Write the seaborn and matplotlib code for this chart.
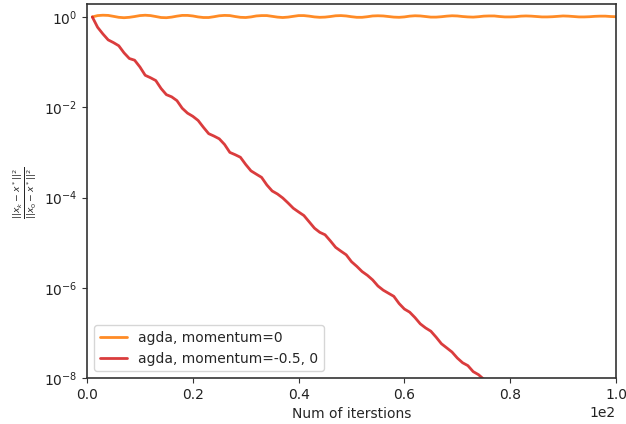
import matplotlib
matplotlib.use("Agg")
import matplotlib.pyplot as plt
import numpy as np
import pandas as pd
import seaborn as sns

# relative squared distance to the solution, per iteration
iters_plain = list(range(1, 101))
err_plain = [
    1.00, 1.07, 1.09, 1.08, 1.03, 0.98, 0.96, 0.98, 1.02, 1.07,
    1.09, 1.07, 1.02, 0.97, 0.96, 0.99, 1.04, 1.08, 1.08, 1.05,
    1.00, 0.97, 0.97, 1.01, 1.06, 1.08, 1.07, 1.02, 0.98, 0.97,
    1.00, 1.05, 1.07, 1.07, 1.03, 0.99, 0.97, 0.99, 1.03, 1.07,
    1.07, 1.04, 1.00, 0.98, 0.99, 1.02, 1.06, 1.07, 1.05, 1.01,
    0.98, 0.98, 1.01, 1.05, 1.06, 1.05, 1.02, 0.99, 0.98, 1.00,
    1.04, 1.06, 1.05, 1.02, 0.99, 0.99, 1.01, 1.04, 1.06, 1.05,
    1.02, 1.00, 0.99, 1.01, 1.04, 1.05, 1.05, 1.02, 1.00, 1.00,
    1.01, 1.04, 1.05, 1.04, 1.02, 1.00, 1.00, 1.01, 1.03, 1.05,
    1.04, 1.02, 1.00, 1.00, 1.01, 1.03, 1.04, 1.04, 1.02, 1.01,
]

iters_mom = list(range(1, 77))
err_mom = [
    1.0, 5.9e-1, 4.2e-1, 3.1e-1, 2.7e-1, 2.3e-1, 1.6e-1, 1.2e-1, 1.1e-1, 7.8e-2,
    5.1e-2, 4.5e-2, 3.9e-2, 2.6e-2, 1.9e-2, 1.7e-2, 1.4e-2, 9.5e-3, 7.4e-3, 6.3e-3,
    5.1e-3, 3.6e-3, 2.6e-3, 2.3e-3, 2.0e-3, 1.5e-3, 1.0e-3, 8.9e-4, 7.8e-4, 5.4e-4,
    3.9e-4, 3.3e-4, 2.8e-4, 1.9e-4, 1.4e-4, 1.2e-4, 9.8e-5, 7.6e-5, 5.8e-5, 4.8e-5,
    4.0e-5, 2.9e-5, 2.1e-5, 1.7e-5, 1.5e-5, 1.1e-5, 7.9e-6, 6.5e-6, 5.4e-6, 3.8e-6,
    3.0e-6, 2.3e-6, 1.9e-6, 1.5e-6, 1.1e-6, 8.9e-7, 7.6e-7, 6.5e-7, 4.5e-7, 3.4e-7,
    2.9e-7, 2.2e-7, 1.6e-7, 1.3e-7, 1.1e-7, 8.1e-8, 5.8e-8, 4.7e-8, 3.8e-8, 2.8e-8,
    2.2e-8, 1.9e-8, 1.4e-8, 1.2e-8, 9.5e-9, 7.6e-9,
]

labels = ["agda, momentum=0", "agda, momentum=-0.5, 0"]
colors = ["#ff7f0e", "#d62728"]

df = pd.concat([
    pd.DataFrame({"iter": iters_plain, "err": err_plain, "method": labels[0]}),
    pd.DataFrame({"iter": iters_mom, "err": err_mom, "method": labels[1]}),
])

sns.set_style("ticks")
plt.rcParams["font.family"] = ["DejaVu Sans"]

fig = plt.figure(figsize=(6.26, 4.24), dpi=100)
ax = fig.add_axes([0.139, 0.108, 0.845, 0.883])

sns.lineplot(data=df, x="iter", y="err", hue="method", palette=colors,
             hue_order=labels, linewidth=2, alpha=0.9, ax=ax)

ax.set_yscale("log")
ax.set_xlim(0, 100)
ax.set_ylim(1e-8, 1.95)
ax.set_yticks([1e0, 1e-2, 1e-4, 1e-6, 1e-8])
ax.minorticks_off()
ax.ticklabel_format(axis="x", style="sci", scilimits=(0, 0))

for s in ax.spines.values():
    s.set_visible(True)
    s.set_color("#333333")
    s.set_linewidth(1.2)
ax.tick_params(colors="#333333", labelcolor="#222222", labelsize=10)

ax.set_xlabel("Num of iterstions", fontsize=10)
ax.set_ylabel(r"$\frac{||x_k - x^*||^2}{||x_0 - x^*||^2}$", fontsize=9.5)
ax.yaxis.set_label_coords(-0.091, 0.496)

ax.legend(loc="lower left", fontsize=10, title=None)

fig.savefig("out.png", dpi=100)
